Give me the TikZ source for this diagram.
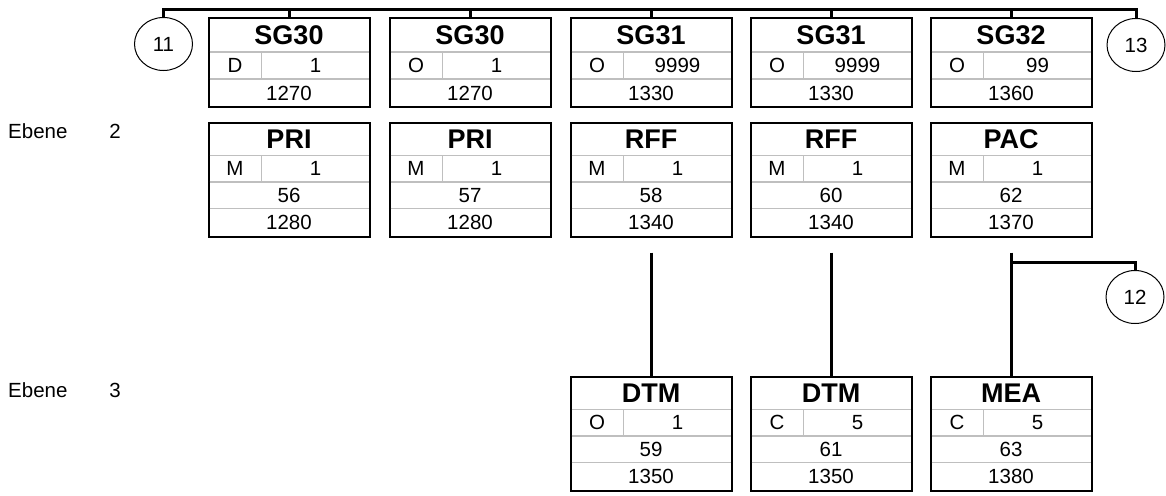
\documentclass[tikz,border=0pt]{standalone}
\usepackage{fontspec}
\setmainfont{Liberation Sans}
\usetikzlibrary{shapes.geometric}
\tikzset{
 segbox/.style={draw, line width=2pt, minimum width=161pt, anchor=north west, inner sep=0pt, outer sep=0pt},
 cellline/.style={draw=black!25, line width=1.5pt},
 conn/.style={line width=3pt},
 ttl/.style={font=\bfseries\fontsize{27}{27}\selectfont, inner sep=0pt},
 txt/.style={font=\fontsize{20.5}{20.5}\selectfont, inner sep=0pt},
 lbl/.style={font=\fontsize{20.5}{20.5}\selectfont, inner sep=0pt},
 refc/.style={draw, ellipse, line width=1pt, minimum width=58pt, minimum height=53pt, inner sep=0pt, font=\fontsize{20.5}{20.5}\selectfont},
}
\newcommand{\grpbox}[7]{%
 \node[segbox, minimum height=89pt] (#1) at (#2,#3) {};
 \draw[cellline] ([xshift=1pt,yshift=-34pt]#1.north west) -- ([xshift=-1pt,yshift=-34pt]#1.north east);
 \draw[cellline] ([xshift=1pt,yshift=-61pt]#1.north west) -- ([xshift=-1pt,yshift=-61pt]#1.north east);
 \draw[cellline] ([xshift=53pt,yshift=-34pt]#1.north west) -- ([xshift=53pt,yshift=-61pt]#1.north west);
 \node[ttl] (#1-t) at ([yshift=-17pt]#1.north) {#4};
 \node[txt] (#1-s) at ([xshift=26.5pt,yshift=-47.5pt]#1.north west) {#5};
 \node[txt] (#1-r) at ([xshift=107pt,yshift=-47.5pt]#1.north west) {#6};
 \node[txt] (#1-c) at ([yshift=-75pt]#1.north) {#7};
}
\newcommand{\segbx}[8]{%
 \node[segbox, minimum height=114pt] (#1) at (#2,#3) {};
 \draw[cellline] ([xshift=1pt,yshift=-33pt]#1.north west) -- ([xshift=-1pt,yshift=-33pt]#1.north east);
 \draw[cellline] ([xshift=1pt,yshift=-59.5pt]#1.north west) -- ([xshift=-1pt,yshift=-59.5pt]#1.north east);
 \draw[cellline] ([xshift=1pt,yshift=-86pt]#1.north west) -- ([xshift=-1pt,yshift=-86pt]#1.north east);
 \draw[cellline] ([xshift=53pt,yshift=-33pt]#1.north west) -- ([xshift=53pt,yshift=-59.5pt]#1.north west);
 \node[ttl] (#1-t) at ([yshift=-16.5pt]#1.north) {#4};
 \node[txt] (#1-s) at ([xshift=26.5pt,yshift=-46.25pt]#1.north west) {#5};
 \node[txt] (#1-r) at ([xshift=107pt,yshift=-46.25pt]#1.north west) {#6};
 \node[txt] (#1-n) at ([yshift=-72.75pt]#1.north) {#7};
 \node[txt] (#1-c) at ([yshift=-100pt]#1.north) {#8};
}
\begin{document}
\begin{tikzpicture}[x=1pt,y=-1pt]
\useasboundingbox (0,0) rectangle (1166,495);
% level 1 groups
\grpbox{g1}{208.5}{18}{SG30}{D}{1}{1270}
\grpbox{g2}{389.5}{18}{SG30}{O}{1}{1270}
\grpbox{g3}{570.5}{18}{SG31}{O}{9999}{1330}
\grpbox{g4}{750.5}{18}{SG31}{O}{9999}{1330}
\grpbox{g5}{930.5}{18}{SG32}{O}{99}{1360}
% level 2
\segbx{s1}{208.5}{122.5}{PRI}{M}{1}{56}{1280}
\segbx{s2}{389.5}{122.5}{PRI}{M}{1}{57}{1280}
\segbx{s3}{570.5}{122.5}{RFF}{M}{1}{58}{1340}
\segbx{s4}{750.5}{122.5}{RFF}{M}{1}{60}{1340}
\segbx{s5}{930.5}{122.5}{PAC}{M}{1}{62}{1370}
% level 3
\segbx{d1}{570.5}{376.5}{DTM}{O}{1}{59}{1350}
\segbx{d2}{750.5}{376.5}{DTM}{C}{5}{61}{1350}
\segbx{d3}{930.5}{376.5}{MEA}{C}{5}{63}{1380}
% reference circles
\node[refc] (c11) at (163.5,44) {11};
\node[refc] (c13) at (1136,45) {13};
\node[refc] (c12) at (1135,297) {12};
% level labels
\node[lbl, anchor=west] (e2) at (8,131) {Ebene};
\node[lbl] (e2n) at (115,131) {2};
\node[lbl, anchor=west] (e3) at (8,390) {Ebene};
\node[lbl] (e3n) at (115,390) {3};
% connectors
\coordinate (busL) at (163.5,10);
\draw[conn] (c11.north) -- (busL) -| (c13.north);
\foreach \g in {g1,g2,g3,g4,g5}{
 \draw[conn] (\g.north) -- (\g.north |- busL);
}
\draw[conn] ([yshift=-16pt]s3.south) -- (d1.north);
\draw[conn] ([yshift=-16pt]s4.south) -- (d2.north);
\draw[conn] ([yshift=-16pt]s5.south) -- (d3.north);
\coordinate (j12) at ([yshift=-26pt]s5.south);
\draw[conn] (j12) -| (c12.north);
\end{tikzpicture}
\end{document}
